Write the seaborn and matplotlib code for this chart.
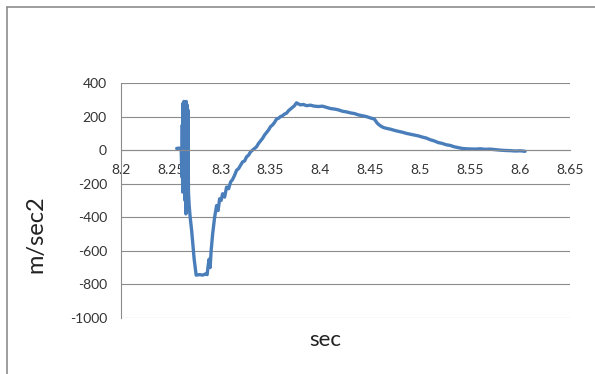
import numpy as np
import pandas as pd
import matplotlib
matplotlib.use("Agg")
import matplotlib.pyplot as plt
import seaborn as sns
from matplotlib.lines import Line2D

# time (sec) and acceleration (m/sec2)
t_sec = [
    8.2560, 8.2580, 8.2605, 8.2612, 8.2616, 8.2620, 8.2624, 8.2628, 8.2632, 8.2636,
    8.2640, 8.2644, 8.2648, 8.2652, 8.2656, 8.2660, 8.2664, 8.2668, 8.2672, 8.2678,
    8.2685, 8.2695, 8.2710, 8.2735, 8.2755, 8.2790, 8.2820, 8.2850, 8.2865, 8.2875,
    8.2885, 8.2895, 8.2905, 8.2920, 8.2940, 8.2960, 8.2975, 8.2990, 8.3005, 8.3020,
    8.3040, 8.3060, 8.3080, 8.3100, 8.3120, 8.3140, 8.3160, 8.3180, 8.3200, 8.3220,
    8.3240, 8.3260, 8.3280, 8.3300, 8.3320, 8.3340, 8.3360, 8.3380, 8.3400, 8.3420,
    8.3440, 8.3460, 8.3480, 8.3500, 8.3520, 8.3540, 8.3560, 8.3580, 8.3600, 8.3620,
    8.3640, 8.3660, 8.3680, 8.3700, 8.3720, 8.3740, 8.3760, 8.3780, 8.3800, 8.3830,
    8.3860, 8.3900, 8.3940, 8.3980, 8.4020, 8.4060, 8.4100, 8.4140, 8.4180, 8.4220,
    8.4260, 8.4300, 8.4340, 8.4380, 8.4420, 8.4460, 8.4500, 8.4540, 8.4570, 8.4600,
    8.4630, 8.4660, 8.4700, 8.4740, 8.4780, 8.4820, 8.4860, 8.4900, 8.4940, 8.4980,
    8.5020, 8.5060, 8.5100, 8.5140, 8.5180, 8.5220, 8.5260, 8.5300, 8.5340, 8.5380,
    8.5420, 8.5460, 8.5500, 8.5550, 8.5600, 8.5650, 8.5700, 8.5750, 8.5800, 8.5850,
    8.5900, 8.5950, 8.6000, 8.6050,
]
accel = [
    10, 12, 8, -160, 150, -250, 280, -120, 290, -230,
    200, -300, 285, -380, 290, -200, 270, -320, 240, -250,
    -330, -400, -480, -650, -745, -742, -745, -738, -742, -690,
    -650, -700, -600, -500, -400, -330, -360, -290, -300, -260,
    -280, -220, -230, -190, -175, -150, -120, -110, -90, -70,
    -65, -40, -30, -10, 0, 10, 20, 40, 55, 70,
    90, 105, 120, 140, 150, 165, 185, 190, 200, 205,
    215, 220, 235, 245, 255, 265, 282, 275, 270, 272,
    265, 268, 262, 260, 262, 255, 248, 245, 240, 232,
    228, 222, 218, 210, 205, 200, 192, 185, 160, 145,
    135, 130, 125, 118, 112, 107, 100, 95, 90, 85,
    78, 72, 62, 55, 45, 40, 32, 28, 20, 15,
    10, 8, 7, 6, 8, 5, 6, 3, 0, -2,
    -3, -5, -4, -7,
]

x_ticks = [8.2, 8.25, 8.3, 8.35, 8.4, 8.45, 8.5, 8.55, 8.6, 8.65]
x_tick_labels = ["8.2", "8.25", "8.3", "8.35", "8.4", "8.45", "8.5", "8.55", "8.6", "8.65"]
y_ticks = [-1000, -800, -600, -400, -200, 0, 200, 400]

df = pd.DataFrame({"sec": t_sec, "acc": accel})

sns.set_style("white")
plt.rcParams["font.family"] = ["Lato", "DejaVu Sans"]
plt.rcParams["axes.unicode_minus"] = False

GRID = "#8c8c8c"
LINE = "#4a7ebb"

fig = plt.figure(figsize=(5.95, 3.74), dpi=100)
ax = fig.add_axes([0.203, 0.150, 0.755, 0.628])

sns.lineplot(data=df, x="sec", y="acc", ax=ax, color=LINE, linewidth=2.4,
             estimator=None, sort=False)

ax.set_xlim(8.2, 8.65)
ax.set_ylim(-1000, 400)
ax.set_xticks(x_ticks)
ax.set_xticklabels(x_tick_labels)
ax.set_yticks(y_ticks)
ax.yaxis.grid(True, color=GRID, linewidth=0.8)
ax.set_axisbelow(True)

for s in ["top", "right"]:
    ax.spines[s].set_visible(False)
ax.spines["left"].set_color(GRID)
ax.spines["left"].set_linewidth(0.8)
ax.spines["bottom"].set_position(("data", 0))
ax.spines["bottom"].set_color(GRID)
ax.spines["bottom"].set_linewidth(0.8)

ax.tick_params(axis="x", length=0, pad=10, labelsize=10, colors="#333333")
ax.tick_params(axis="y", length=0, pad=10, labelsize=10, colors="#333333")

ax.set_xlabel("sec", fontsize=16, color="#222222")
ax.set_ylabel("m/sec2", fontsize=17, color="#222222")
ax.xaxis.set_label_coords(0.456, -0.05)
ax.yaxis.set_label_coords(-0.165, 0.355)

# chart frame (only top and left edges are visible in the crop)
fig.add_artist(Line2D([7 / 595, 7 / 595], [0, 1 - 7 / 374], transform=fig.transFigure,
                      color="#8c8c8c", linewidth=1.2))
fig.add_artist(Line2D([7 / 595, 1], [1 - 7 / 374, 1 - 7 / 374], transform=fig.transFigure,
                      color="#8c8c8c", linewidth=1.2))

fig.savefig("out.png", dpi=100)
